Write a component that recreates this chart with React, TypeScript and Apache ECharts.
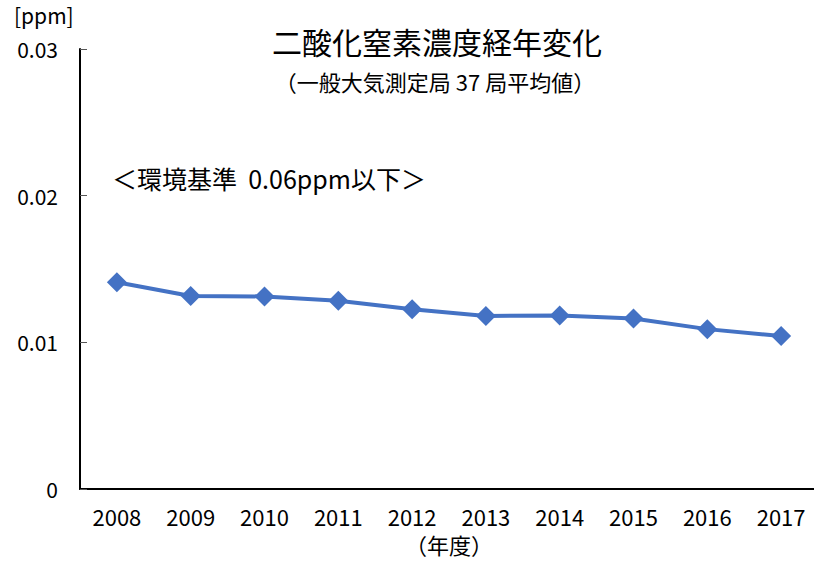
import React, { useEffect, useRef } from "react";
import * as echarts from "echarts";

const years = ["2008", "2009", "2010", "2011", "2012", "2013", "2014", "2015", "2016", "2017"];
const no2Values = [0.0141, 0.01316, 0.01313, 0.01283, 0.01226, 0.0118, 0.01183, 0.01162, 0.0109, 0.01043];
const yTicks = [0, 0.01, 0.02, 0.03];

const FONT = "'Noto Sans CJK JP', 'Noto Sans', sans-serif";

export default function App() {
  const ref = useRef<HTMLDivElement>(null);
  useEffect(() => {
    document.body.style.margin = "0";
    const chart = echarts.init(ref.current!, null, { renderer: "svg" });
    chart.setOption({
      animation: false,
      backgroundColor: "#fff",
      textStyle: { fontFamily: FONT },
      title: [
        {
          text: "二酸化窒素濃度経年変化",
          left: 432,
          top: 21,
          textAlign: "center",
          textStyle: { fontSize: 30, fontWeight: "normal", color: "#000", fontFamily: FONT },
        },
        {
          text: "（一般大気測定局 37 局平均値）",
          left: 430,
          top: 65,
          textAlign: "center",
          textStyle: { fontSize: 22, fontWeight: "normal", color: "#000", fontFamily: FONT },
        },
      ],
      graphic: [
        {
          type: "text",
          left: 112,
          top: 165,
          style: { text: "＜環境基準  0.06ppm以下＞", fontSize: 25, fill: "#000", fontFamily: FONT },
        },
        {
          type: "text",
          left: 14,
          top: 4,
          style: { text: "[ppm]", fontSize: 21, fill: "#000", fontFamily: FONT },
        },
        {
          type: "text",
          left: 405,
          top: 533,
          style: { text: "（年度）", fontSize: 22, fill: "#000", fontFamily: FONT },
        },
      ],
      grid: { left: 80, top: 49, width: 738, height: 440, containLabel: false },
      xAxis: {
        type: "category",
        data: years,
        boundaryGap: true,
        axisLine: { lineStyle: { color: "#000", width: 2 } },
        axisTick: { inside: true, length: 7, lineStyle: { color: "#555", width: 1 } },
        axisLabel: { color: "#000", fontSize: 22, margin: 16, fontFamily: FONT },
      },
      yAxis: {
        type: "value",
        min: 0,
        max: 0.03,
        interval: 0.01,
        axisLine: { show: true, lineStyle: { color: "#000", width: 2 } },
        axisTick: { show: true, inside: true, length: 7, lineStyle: { color: "#555", width: 1 } },
        splitLine: { show: false },
        axisLabel: {
          color: "#000",
          fontSize: 21,
          margin: 22,
          fontFamily: FONT,
          formatter: (v: number) => {
            const t = yTicks.find((x) => Math.abs(x - v) < 1e-9);
            return t === 0 ? "0" : (t ?? v).toFixed(2);
          },
        },
      },
      series: [
        {
          type: "line",
          data: no2Values,
          symbol: "diamond",
          symbolSize: 20,
          lineStyle: { color: "#4472C4", width: 4 },
          itemStyle: { color: "#4472C4" },
        },
      ],
    });
    return () => chart.dispose();
  }, []);
  return (
    <div style={{ position: "fixed", left: 0, top: 0, width: 814, height: 567, overflow: "hidden" }}>
      <div ref={ref} style={{ width: 830, height: 567 }} />
    </div>
  );
}
